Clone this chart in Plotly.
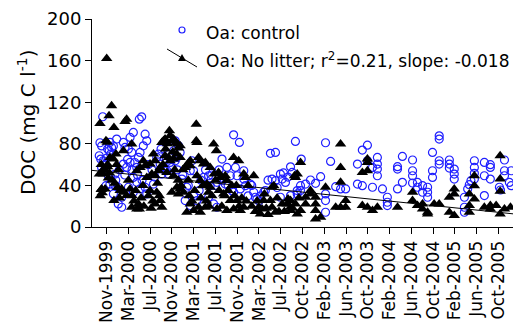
import plotly.graph_objects as go

# ---- data (x = days after the Nov-1999 tick, y = DOC mg C/l) ----
ctrl_day = [-22, -37, -28, -41, -33, -19, 0, 18, 27, 37, 14, 22, -28, -15, 9, 22, 46, -4, 18, 46,
            64, 37, 83, 83, 64, 55, 92, 129, 147, 180, 193, 101, 120, 138, 175, 184, 202, 212, 221, 92,
            110, 129, 166, 147, 166, 120, 147, 184, 212, 221, 258, 276, 295, 313, 332, 350, 359, 369, 378, 387,
            405, 304, 322, 341, 359, 350, 378, 396, 415, 442, 470, 461, 479, 433, 461, 498, 534, 562, 590, 608,
            534, 562, 571, 608, 636, 663, 682, 710, 719, 756, 654, 700, 737, 756, 765, 792, 700, 732, 811, 820,
            829, 866, 875, 903, 931, 912, 931, 958, 968, 986, 1014, 1023, 958, 1014, 1051, 1069, 1041,
            1207, 1235, 1073, 1124, 1152, 1097, 1069, 1051, 1180, 1207, 1207, 1207, 1263, 1290, 1318, 1383, 1410, 1438, 1438,
            1466, 1466, 1493, 1493, 1493, 1493, 1410, 1383, 1521, 1548, 1548, 1548, 1604, 1604, 1631, 1631, 1604, 1687, 1687,
            1687, 1687, 1714, 1714, 1742, 1742, 1770, 1770, 1770, 1797, 1797, 1797, 1834, 1834, 1834, 1834, 1890, 1890, 1890,
            1917, 1917, 1917, 1973, 1973, 1973, 1991, 2000, 2009, 2028, 2028, 2028, 2028, 2083, 2083, 2116, 2116, 2116, 2083,
            2194, 2194, 2194, 2231, 2221, 2166, 2172, 2231,
            -10, 5, 30, 50, 70, 100, 115, 140, 155, 170, 195, 230, 250, 265, 285, 300, 330, 345, 390, 420,
            450, 480, 510, 520, 545, 580, 600, 620, 640, 670, 690, 780, 800, 840, 850, 890, 940, 975, 1000]
ctrl_doc = [106, 81, 78, 68.5, 65.3, 63.7, 66.3, 81.3, 76.5, 78, 73.3, 70.1, 57.3, 54.1, 49.3, 47.7, 50.9, 39.7, 41.3, 39.7,
            38.2, 31.8, 28.6, 19, 22.2, 84.5, 81.3, 86.1, 90.9, 103.7, 105.9, 76.5, 74.9, 71.7, 66.9, 71.7, 78.1, 89.3, 82.9, 60.5,
            57.3, 62.1, 57.3, 47.7, 43, 38.2, 33.4, 36.6, 38.2, 31.8, 41.3, 66.9, 60.5, 57.3, 54.1, 62.1, 68.5, 73.3, 63.7, 66.9,
            71.7, 50.9, 54.1, 50.9, 57.3, 84.5, 82.9, 78.1, 46.1, 38.2, 63.7, 54.1, 54.1, 25.4, 20.6, 25.4, 22.2, 28.6, 22.2, 19,
            47.7, 49.3, 39.7, 43, 65.3, 57.3, 49.3, 57.3, 49.3, 54.1, 41.3, 33.4, 36.6, 46.1, 39.7, 41.3, 88.6, 81.3, 33.4, 28.6,
            27, 33.4, 35, 70.8, 71.7, 46.1, 44.5, 50.9, 46.1, 42.9, 57.9, 52.5, 28.6, 30.2, 31.8, 35, 82.3,
            81, 63.1, 65.3, 45.2, 42, 41.3, 39.7, 35, 48.4, 31.8, 25.4, 14.2, 38.8, 36.6, 36.6, 60.5, 74, 78.7, 63.7,
            57.3, 38.2, 66.9, 60.5, 55.7, 49.3, 39.7, 41.3, 36.6, 28.6, 23.8, 20.6, 58, 55.7, 67.9, 43, 36.6, 64.4, 54.1,
            49.3, 42.3, 42.9, 38.2, 39.7, 33.4, 38.2, 33.4, 28.6, 71.7, 54.1, 47.7, 87.7, 84.5, 63.7, 60.5, 64.4, 60.5, 56.7,
            55.7, 50.9, 46.1, 28.6, 19, 14.2, 36.6, 40.7, 44.5, 63.7, 57.3, 51.6, 46.1, 62.1, 49.3, 59.9, 57.3, 46.1, 30.2,
            64.4, 54.1, 49.3, 54.1, 42.9, 38.2, 35.6, 39.7,
            60, 75, 62, 45, 55, 50, 65, 55, 62, 50, 45, 60, 55, 48, 70, 75, 65, 70, 55, 50,
            40, 30, 35, 45, 55, 50, 40, 55, 45, 40, 35, 30, 40, 25, 30, 45, 38, 52, 48]

nolit_day = [0, -37, 13, 27, 40, 101, 110, -4, 3, 18, 37, 51, 92, 138, -19, 9, -28, -9, 40, 74,
             83, 92, 110, 129, 138, 166, 180, 166, 184, 202, 212, 239, 267, 258, 221, 249, 267, 286, 295, 239,
             276, 295, 304, 267, 304, 313, 322, 346, 359, 369, 383, 391, 396, 405, 322, 341, 350, 369, 387, 405,
             332, 369, 387, 359, 405, 424, 396, 433, 446, 461, 494, 494, 498, 461, 507, 516, 534, 544, 498, 516,
             534, 553, 571, 562, 461, 479, 442, 507, 516, 544, 608, 590, 605, 571, 593, 617, 627, 654, 663, 700,
             728, 645, 682, 719, 737, 756, 700, 663, 756, 765, 811, 839, 848, 866, 870, 857, 903, 912, 931, 968,
             995, 1014, 1041, 1051, 1069, 912, 922, 1036, 1041, 1051,
             1069, 1124, 1124, 1097, 1097, 1152, 1152, 1152, 1180, 1152, 1014, 1014, 1207, 1290, 1290, 1290, 1290, 1318, 1318,
             1263, 1410, 1438, 1466, 1493, 1438, 1438, 1410, 1438, 1604, 1687, 1687, 1714, 1742, 1742, 1770, 1770, 1806, 1834,
             1890, 1890, 1917, 1917, 1917, 2000, 2000, 2028, 2028, 2028, 2000, 2083, 2116, 2116, 2148, 2170, 2170, 2170, 2170,
             2194, 2227, -40, -30, -10, 5,
             -30, -20, 5, 15, 30, 45, 60, 70, -35, -25, 55, 65,
             120, 140, 150, 160, 175, 190, 200, 205, 230, 245, 255, 280, 290,
             310, 325, 335, 350, 365, 375, 395, 410, 420, 450, 455, 470, 485,
             520, 530, 550, 565, 580, 600, 620, 635, 650, 670, 690, 705, 715, 730, 745, 770, 780, 800, 820, 830,
             880, 890, 940, 950, 980, 1000, 1025, 1060]
nolit_doc = [162, 99.5, 106.9, 116.5, 95.7, 101.4, 103.7, 82.9, 81.6, 66.9, 65.3, 70.1, 73.3, 79.7, 50.9, 47.1, 36.6, 36.6, 25.4, 35,
             36.6, 33.4, 30.2, 36.6, 19, 17.4, 17.4, 54.1, 57.3, 63.7, 58.9, 60.5, 63.7, 70.1, 47.7, 50.9, 49.3, 54.1, 57.3, 35,
             33.4, 25.4, 19, 22.2, 81.3, 82.9, 84.5, 92.5, 82.9, 84.5, 81.3, 79.7, 75.9, 78.1, 68.5, 66.9, 63.7, 65.3, 70.1, 66.9,
             52.5, 49.3, 38.2, 33.4, 36.6, 33.4, 31.8, 57.3, 60.5, 63.7, 98.9, 82.9, 81.3, 58.9, 66.9, 63.7, 60.5, 62.1, 49.3, 44.6,
             39.7, 41.3, 38.2, 33.4, 22.2, 15.8, 14.2, 19, 14.2, 19, 17.4, 79.7, 73.3, 57.3, 50.9, 52.5, 47.7, 49.3, 44.6, 66.9,
             63.7, 31.8, 25.4, 25.4, 15.8, 19, 17.4, 15.8, 50.9, 47.7, 49.3, 19, 12.6, 25.4, 31.8, 17.4, 25.4, 19, 14.2, 22.2,
             22.2, 19, 22.2, 12.6, 15.8, 38.2, 39.7, 49.3, 47.7, 50.9,
             62.1, 35, 31.8, 28.6, 22.2, 28.6, 22.2, 15.8, 9.4, 7.8, 25.4, 15.8, 38.2, 79.7, 57.3, 43, 19, 25.4, 19,
             19, 20.6, 19, 15.8, 19, 65.3, 62.1, 52.5, 54.1, 19, 33.4, 25.4, 20.6, 22.2, 17.4, 14.2, 12.6, 22.2, 22.2,
             28.6, 14.2, 36.6, 31.8, 11, 20.6, 14.2, 49.3, 39.7, 27, 31.8, 19, 20.6, 17.4, 20.6, 68.5, 46.1, 34.3, 12.6,
             17.4, 19, 51, 36, 55, 60,
             60, 55, 58, 52, 45, 42, 38, 28, 30, 33, 60, 55,
             45, 30, 25, 35, 22, 28, 40, 20, 30, 18, 25, 42, 30,
             60, 75, 80, 88, 72, 55, 45, 40, 55, 45, 30, 25, 35,
             28, 40, 25, 20, 30, 45, 35, 20, 30, 35, 40, 30, 40, 20, 28, 25, 40, 20, 15, 25,
             18, 12, 28, 15, 15, 27, 18, 28]

tick_days = [0, 120, 240, 360, 480, 600, 720, 840, 960, 1080, 1200, 1320, 1440, 1560, 1680, 1800, 1920, 2040, 2160]
tick_labels = ["Nov-1999", "Mar-2000", "Jul-2000", "Nov-2000", "Mar-2001", "Jul-2001", "Nov-2001", "Mar-2002",
               "Jul-2002", "Oct-2002", "Feb-2003", "Jun-2003", "Oct-2003", "Feb-2004", "Jun-2004", "Oct-2004",
               "Feb-2005", "Jun-2005", "Oct-2005"]
y_ticks = [0, 40, 80, 120, 160, 200]

fit_intercept = 53.0
fit_slope = -0.018
x_range = [-81, 2241]

FONT = "DejaVu Sans"
BLUE = "#1f1fff"

fig = go.Figure()
fig.add_trace(go.Scatter(x=ctrl_day, y=ctrl_doc, mode="markers", name="Oa: control",
                         marker=dict(symbol="circle-open", size=8, color=BLUE, line=dict(width=1.2, color=BLUE)),
                         showlegend=False))
fig.add_trace(go.Scatter(x=nolit_day, y=nolit_doc, mode="markers", name="Oa: No litter",
                         marker=dict(symbol="triangle-up", size=10, color="black"),
                         showlegend=False))
fit_x = x_range
fit_y = [fit_intercept + fit_slope * v for v in fit_x]
fig.add_trace(go.Scatter(x=fit_x, y=fit_y, mode="lines", line=dict(color="black", width=1), showlegend=False))

# plot area in pixels: x 92..513, y 19..227
def px(xp):
    return (xp - 92) / 421.0
def py(yp):
    return (227 - yp) / 208.0

shapes = [
    dict(type="circle", xref="paper", yref="paper", xsizemode="pixel", ysizemode="pixel",
         xanchor=px(182), yanchor=py(30), x0=-3, x1=3, y0=-3, y1=3,
         line=dict(color=BLUE, width=1.2)),
    dict(type="line", xref="paper", yref="paper", x0=px(167), y0=py(49), x1=px(197), y1=py(67),
         line=dict(color="black", width=1)),
    dict(type="path", xref="paper", yref="paper", xsizemode="pixel", ysizemode="pixel",
         xanchor=px(182), yanchor=py(58), path="M -4,-3 L 4,-3 L 0,4 Z",
         fillcolor="black", line=dict(color="black", width=0)),
]

annotations = [
    dict(text="Oa: control", xref="paper", yref="paper", x=px(204), y=py(33), xanchor="left", yanchor="middle",
         showarrow=False, font=dict(family=FONT, size=17, color="black")),
    dict(text="Oa: No litter; r<sup>2</sup>=0.21, slope: -0.018", xref="paper", yref="paper", x=px(204), y=py(60),
         xanchor="left", yanchor="middle", showarrow=False, font=dict(family=FONT, size=17, color="black")),
    dict(text="DOC (mg C l<sup>-1</sup>)", xref="paper", yref="paper", x=0, y=0.5, xshift=-65, textangle=-90,
         xanchor="center", yanchor="middle", showarrow=False, font=dict(family=FONT, size=20, color="black")),
]

fig.update_layout(
    width=514, height=327,
    margin=dict(l=92, r=1, t=19, b=100, pad=0),
    paper_bgcolor="white", plot_bgcolor="white",
    font=dict(family=FONT, size=17, color="black"),
    shapes=shapes, annotations=annotations,
    xaxis=dict(range=x_range, tickmode="array", tickvals=tick_days, ticktext=tick_labels, tickangle=-90,
               ticks="outside", ticklen=6, tickwidth=1, tickcolor="black", showline=True, linecolor="black",
               linewidth=1, showgrid=False, zeroline=False, tickfont=dict(family=FONT, size=17)),
    yaxis=dict(range=[0, 200], tickmode="array", tickvals=y_ticks, ticks="outside", ticklen=6, tickwidth=1,
               tickcolor="black", showline=True, linecolor="black", linewidth=1, showgrid=False, zeroline=False,
               tickfont=dict(family=FONT, size=18)),
)

fig.write_html("out.html", config={"displayModeBar": False},
               post_script="document.body.style.margin='0px';")
